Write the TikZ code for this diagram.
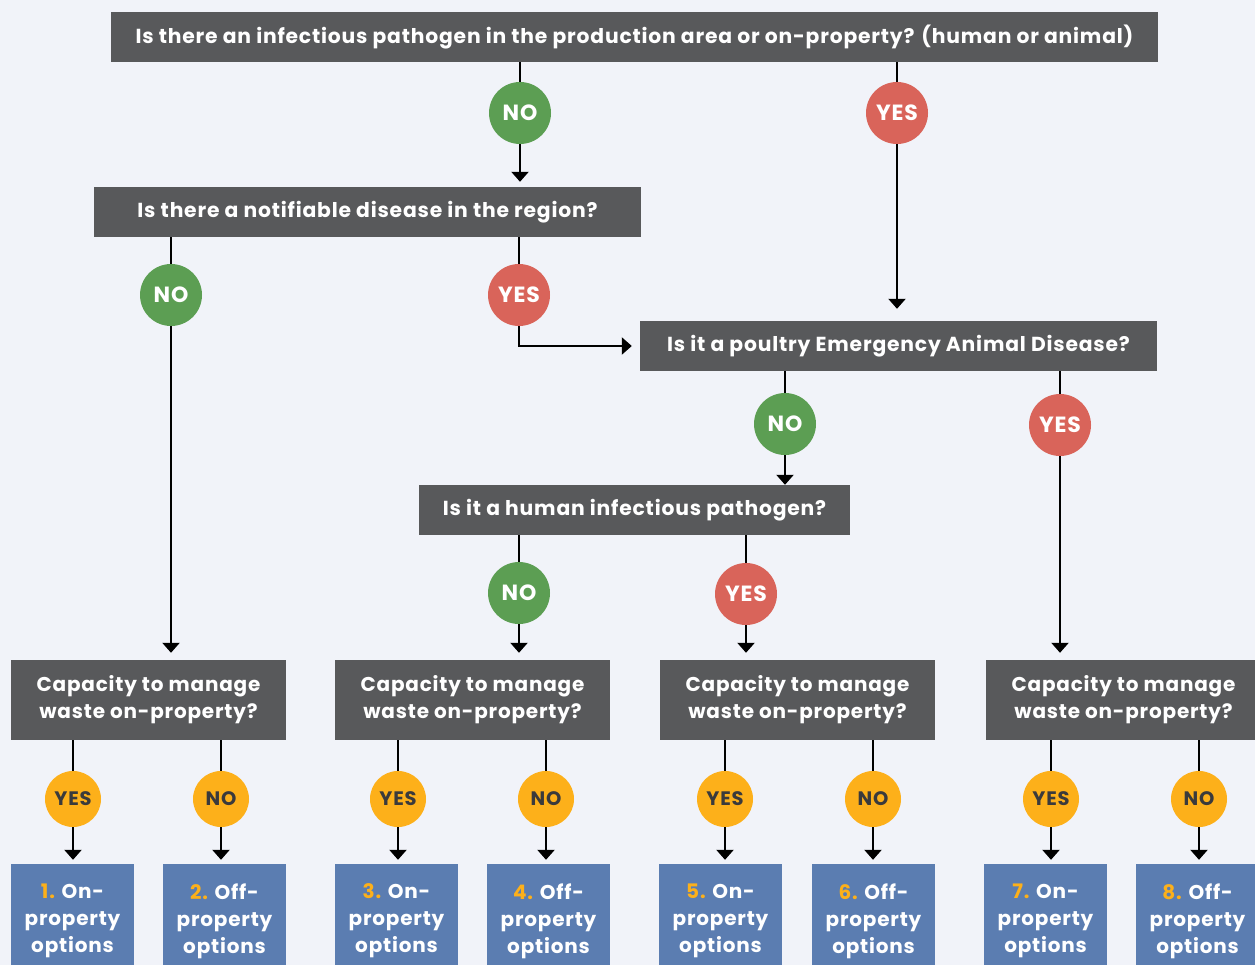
\documentclass[tikz,border=0pt]{standalone}
\usepackage{fontspec}
\setmainfont{Poppins}[LetterSpace=4]
\usetikzlibrary{arrows.meta}

\definecolor{cor_bg}{HTML}{F1F3F9}
\definecolor{cor_gray}{HTML}{58595B}
\definecolor{cor_green}{HTML}{5C9E53}
\definecolor{cor_red}{HTML}{D9645A}
\definecolor{cor_yellow}{HTML}{FDB01A}
\definecolor{cor_blue}{HTML}{5B7DB1}
\definecolor{cor_dark}{HTML}{3A3A3C}

\begin{document}
\begin{tikzpicture}[x=1pt,y=-1pt]
        \tikzset{
            question/.style={
                fill=cor_gray,
                text=white,
                font=\bfseries\fontsize{20.3}{27}\selectfont,
                minimum height=50pt,
                inner sep=0pt
            },
            capacity/.style={
                question,
                font=\bfseries\fontsize{20}{27}\selectfont,
                align=center,
                minimum width=275pt,
                minimum height=80pt
            },
            answer/.style={
                circle,
                fill=#1,
                text=white,
                font=\bfseries\fontsize{22}{24}\selectfont,
                minimum size=62pt,
                inner sep=0pt
            },
            smallanswer/.style={
                circle,
                fill=cor_yellow,
                text=cor_dark,
                font=\bfseries\fontsize{19.5}{20}\selectfont,
                minimum size=56pt,
                inner sep=0pt
            },
            option/.style={
                fill=cor_blue,
                text=white,
                align=center,
                font=\bfseries\fontsize{20}{27}\selectfont,
                minimum width=123pt,
                minimum height=114pt,
                inner sep=0pt
            },
            line/.style={draw, line width=2.2pt},
            arrow/.style={line, -{Triangle[width=17pt,length=10pt]}, shorten >=#1},
            arrow/.default=7pt
        }
        \useasboundingbox[fill=cor_bg] (0,0) rectangle (1255,965);
        \clip (0,0) rectangle (1255,965);

        % PERGUNTAS
        \node[question, minimum width=1047pt] (q1) at (634.5,37) {Is there an infectious pathogen in the production area or on-property? (human or animal)};
        \node[question, minimum width=547pt] (q2) at (367.5,212) {Is there a notifiable disease in the region?};
        \node[question, minimum width=517pt] (q3) at (898.5,346) {Is it a poultry Emergency Animal Disease?};
        \node[question, minimum width=431pt] (q4) at (634.5,510) {Is it a human infectious pathogen?};

        \foreach \i/\x in {1/148.5, 2/472.5, 3/797.5, 4/1123.5} {
            \node[capacity] (c\i) at (\x,700) {Capacity to manage\\waste on-property?};
        }

        % RESPOSTAS
        \node[answer=cor_green] (q1no) at (520,113) {NO};
        \node[answer=cor_red] (q1yes) at (897,113) {YES};
        \node[answer=cor_green] (q2no) at (171,295) {NO};
        \node[answer=cor_red] (q2yes) at (519,295) {YES};
        \node[answer=cor_green] (q3no) at (785,424) {NO};
        \node[answer=cor_red] (q3yes) at (1060,425) {YES};
        \node[answer=cor_green] (q4no) at (519,593) {NO};
        \node[answer=cor_red] (q4yes) at (746,594) {YES};

        \draw[line] (q1.south -| q1no) -- (q1no);
        \draw[arrow=5pt] (q1no) -- (q1no |- q2.north);
        \draw[line] (q1.south -| q1yes) -- (q1yes);
        \draw[arrow=12pt] (q1yes) -- (q1yes |- q3.north);
        \draw[line] (q2.south -| q2no) -- (q2no);
        \draw[arrow] (q2no) -- (q2no |- c1.north);
        \draw[line] (q2.south -| q2yes) -- (q2yes);
        \draw[arrow=8pt] (q2yes) |- (q3.west);
        \draw[line] (q3.south -| q3no) -- (q3no);
        \draw[arrow=0pt] (q3no) -- (q3no |- q4.north);
        \draw[line] (q3.south -| q3yes) -- (q3yes);
        \draw[arrow] (q3yes) -- (q3yes |- c4.north);
        \draw[line] (q4.south -| q4no) -- (q4no);
        \draw[arrow] (q4no) -- (q4no |- c2.north);
        \draw[line] (q4.south -| q4yes) -- (q4yes);
        \draw[arrow] (q4yes) -- (q4yes |- c3.north);

        % OPCOES
        \foreach \n/\p/\xc/\xb/\r/\t in {1/1/73/72.5/YES/On, 2/1/221/224.5/NO/Off,
                3/2/398/396.5/YES/On, 4/2/546/548.5/NO/Off, 5/3/725/720.5/YES/On,
                6/3/873/873.5/NO/Off, 7/4/1051/1045.5/YES/On, 8/4/1199/1197.5/NO/Off} {
            \node[option] (o\n) at (\xb,921) {\textcolor{cor_yellow}{\n.} \t-\\property\\options};
            \node[smallanswer] (r\n) at (\xc,799) {\r};
            \draw[line] (c\p.south -| r\n) -- (r\n);
            \draw[arrow=4pt] (r\n) -- (r\n |- o\n.north);
        }
    \end{tikzpicture}
\end{document}
